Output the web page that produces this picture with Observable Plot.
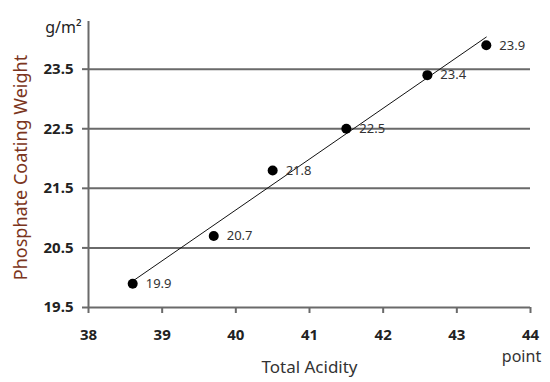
<!DOCTYPE html>
<html>
<head>
<meta charset="utf-8">
<script src="https://cdn.jsdelivr.net/npm/d3@7"></script>
<script src="https://cdn.jsdelivr.net/npm/@observablehq/plot@0.6"></script>
<style>
  html, body { margin: 0; padding: 0; background: #fff; }
  #chart svg { display: block; }
</style>
</head>
<body>
<div id="chart"></div>
<script>
const acidity = [38.6, 39.7, 40.5, 41.5, 42.6, 43.4];
const weight = [19.9, 20.7, 21.8, 22.5, 23.4, 23.9];
const xTicks = [38, 39, 40, 41, 42, 43, 44];
const yTicks = [19.5, 20.5, 21.5, 22.5, 23.5];
const gridTicks = [20.5, 21.5, 22.5, 23.5];

const data = acidity.map((x, i) => ({x, y: weight[i]}));
const font = "'Noto Sans', 'Open Sans', sans-serif";
const lineColor = "#6a6a6a";

const chart = Plot.plot({
  width: 550,
  height: 382,
  marginLeft: 88,
  marginRight: 20,
  marginTop: 21,
  marginBottom: 75,
  style: {fontFamily: font, background: "#fff"},
  x: {domain: [38, 44]},
  y: {domain: [19.5, 24.3]},
  marks: [
    Plot.ruleY(gridTicks, {stroke: lineColor, strokeWidth: 2}),
    Plot.ruleX([38], {y1: 19.5, y2: 24.3, stroke: lineColor, strokeWidth: 2}),
    Plot.ruleY([19.5], {stroke: lineColor, strokeWidth: 2}),
    Plot.axisX({ticks: xTicks, tickFormat: d3.format("d"), tickSize: 6, tickPadding: 16, fontSize: 15, fontWeight: "bold",
      stroke: lineColor, strokeWidth: 2, label: null, fill: "#222"}),
    Plot.axisY({ticks: yTicks, tickFormat: d3.format(".1f"), tickSize: 6, tickPadding: 9,
      fontSize: 15, fontWeight: "bold", stroke: lineColor, strokeWidth: 2, label: null, fill: "#222"}),
    Plot.linearRegressionY(data, {x: "x", y: "y", ci: 0, stroke: "#111", strokeWidth: 1}),
    Plot.dot(data, {x: "x", y: "y", r: 5, fill: "#000"}),
    Plot.text(data, {x: "x", y: "y", text: d => d.y.toFixed(1), dx: 13, textAnchor: "start",
      fontSize: 13, fill: "#333"}),
    Plot.text(["Total Acidity"], {frameAnchor: "bottom", dy: 65, fontSize: 17, fill: "#333"}),
    Plot.text(["point"], {frameAnchor: "bottom-right", dx: -9, dy: 54, textAnchor: "middle", fontSize: 16, fill: "#333"}),
    Plot.text(["g/m²"], {frameAnchor: "top-left", dx: -7, dy: 0, textAnchor: "end", fontSize: 16, fill: "#222"}),
    Plot.text(["Phosphate Coating Weight"], {frameAnchor: "left", textAnchor: "middle", dx: -67, dy: 3, rotate: -90,
      fontSize: 18, fill: "#7b3520"})
  ]
});
document.getElementById("chart").append(chart);
</script>
</body>
</html>
